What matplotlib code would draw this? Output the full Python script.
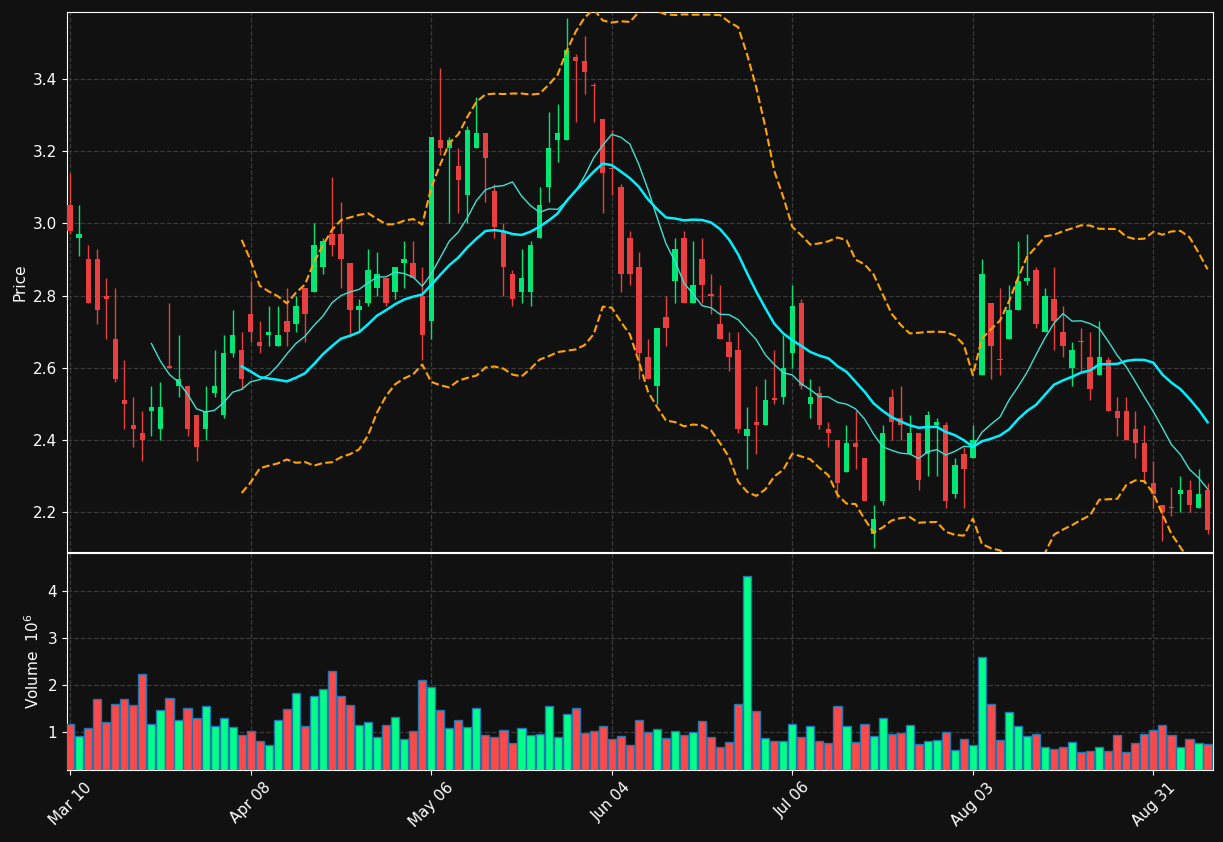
import matplotlib
matplotlib.use("Agg")
import matplotlib.pyplot as plt
import numpy as np
import pandas as pd

tick_labels = ["Mar 10", "Apr 08", "May 06", "Jun 04", "Jul 06", "Aug 03", "Aug 31"]
tick_index = [0, 20, 40, 60, 80, 100, 120]

opens = [3.05,2.96,2.90,2.90,2.80,2.68,2.51,2.44,2.42,2.48,2.43,2.605,2.55,2.55,2.47,2.43,2.53,2.47,2.64,2.65,
         2.75,2.67,2.69,2.66,2.73,2.72,2.82,2.81,2.88,2.97,2.97,2.89,2.76,2.78,2.82,2.85,2.81,2.89,2.89,2.80,
         2.73,3.23,3.21,3.16,3.08,3.21,3.25,3.09,2.98,2.86,2.81,2.81,2.96,3.10,3.23,3.23,3.46,3.45,3.385,3.29,
         3.155,3.10,2.96,2.88,2.63,2.55,2.74,2.84,2.96,2.78,2.90,2.805,2.72,2.67,2.65,2.41,2.45,2.44,2.515,2.52,
         2.64,2.78,2.50,2.53,2.43,2.40,2.31,2.39,2.35,2.14,2.23,2.52,2.46,2.36,2.42,2.36,2.44,2.44,2.25,2.36,
         2.35,2.58,2.78,2.625,2.68,2.76,2.84,2.87,2.70,2.79,2.70,2.60,2.675,2.63,2.58,2.62,2.48,2.48,2.43,2.39,
         2.28,2.22,2.215,2.25,2.26,2.21,2.26]
highs = [3.14,3.05,2.94,2.93,2.85,2.82,2.62,2.52,2.48,2.55,2.56,2.78,2.69,2.55,2.47,2.55,2.65,2.69,2.76,2.70,
         2.84,2.73,2.77,2.77,2.82,2.80,2.82,3.00,2.96,3.13,3.06,2.89,2.79,2.93,2.92,2.85,2.88,2.95,2.95,2.88,
         3.24,3.43,3.24,3.21,3.27,3.35,3.25,3.11,3.00,2.87,2.93,2.95,3.10,3.31,3.33,3.57,3.47,3.52,3.39,3.29,
         3.26,3.11,2.98,2.92,2.68,2.71,2.80,2.96,2.98,2.95,2.96,2.86,2.83,2.70,2.70,2.49,2.55,2.57,2.65,2.69,
         2.83,2.79,2.57,2.55,2.45,2.40,2.44,2.48,2.35,2.22,2.44,2.54,2.55,2.47,2.42,2.48,2.46,2.45,2.35,2.38,
         2.44,2.90,2.78,2.82,2.83,2.95,2.97,2.88,2.82,2.88,2.77,2.67,2.71,2.70,2.73,2.63,2.52,2.52,2.48,2.44,
         2.34,2.22,2.27,2.30,2.29,2.32,2.28]
lows = [2.97,2.91,2.78,2.72,2.68,2.56,2.43,2.38,2.34,2.41,2.40,2.60,2.52,2.41,2.34,2.40,2.52,2.46,2.63,2.54,
        2.67,2.64,2.66,2.66,2.66,2.70,2.67,2.81,2.86,2.91,2.82,2.69,2.70,2.77,2.80,2.77,2.79,2.82,2.85,2.62,
        2.68,3.19,3.00,3.03,3.00,3.21,3.06,2.96,2.80,2.77,2.78,2.77,2.96,3.06,3.17,3.23,3.28,3.36,3.28,3.03,
        3.08,2.81,2.83,2.57,2.57,2.50,2.66,2.78,2.78,2.78,2.78,2.75,2.68,2.59,2.42,2.32,2.36,2.44,2.50,2.50,
        2.60,2.54,2.46,2.43,2.38,2.24,2.31,2.32,2.23,2.10,2.22,2.40,2.40,2.36,2.26,2.30,2.30,2.21,2.24,2.21,
        2.35,2.58,2.57,2.58,2.68,2.76,2.83,2.71,2.70,2.65,2.63,2.55,2.59,2.51,2.58,2.48,2.41,2.40,2.35,2.28,
        2.21,2.12,2.19,2.20,2.20,2.21,2.14]
closes = [2.98,2.97,2.78,2.76,2.79,2.57,2.50,2.43,2.40,2.49,2.49,2.60,2.57,2.43,2.38,2.48,2.55,2.64,2.69,2.57,
          2.70,2.66,2.70,2.69,2.70,2.77,2.75,2.94,2.95,2.94,2.90,2.76,2.77,2.87,2.86,2.78,2.88,2.90,2.85,2.69,
          3.24,3.21,3.23,3.12,3.26,3.25,3.18,2.99,2.88,2.79,2.85,2.94,3.05,3.21,3.25,3.48,3.45,3.42,3.38,3.14,
          3.15,2.86,2.86,2.64,2.57,2.71,2.71,2.93,2.78,2.83,2.83,2.80,2.68,2.63,2.43,2.43,2.44,2.51,2.51,2.60,
          2.77,2.55,2.52,2.44,2.42,2.28,2.39,2.38,2.23,2.18,2.42,2.45,2.44,2.42,2.29,2.47,2.45,2.23,2.33,2.32,
          2.40,2.86,2.66,2.62,2.76,2.84,2.85,2.72,2.80,2.73,2.66,2.65,2.67,2.54,2.63,2.48,2.46,2.40,2.39,2.31,
          2.25,2.20,2.21,2.26,2.22,2.25,2.15]
volumes = [1.18,0.91,1.09,1.70,1.21,1.60,1.70,1.57,2.23,1.18,1.46,1.72,1.25,1.50,1.29,1.55,1.12,1.29,1.10,0.93,
           1.01,0.80,0.72,1.25,1.48,1.84,1.12,1.76,1.91,2.29,1.76,1.57,1.14,1.21,0.89,1.14,1.31,0.84,1.01,2.11,
           1.95,1.46,1.08,1.25,1.10,1.50,0.93,0.89,1.04,0.76,1.08,0.93,0.95,1.55,0.89,1.38,1.50,0.97,1.01,1.12,
           0.84,0.91,0.72,1.25,0.99,1.06,0.87,1.01,0.93,0.99,1.23,0.89,0.67,0.78,1.59,4.33,1.44,0.87,0.80,0.80,
           1.16,0.89,1.12,0.80,0.76,1.55,1.12,0.78,1.18,0.91,1.29,0.95,0.97,1.14,0.74,0.80,0.82,0.99,0.61,0.84,
           0.72,2.59,1.59,0.82,1.42,1.12,0.91,0.95,0.67,0.63,0.67,0.78,0.57,0.59,0.67,0.59,0.93,0.57,0.76,0.95,
           1.04,1.14,0.93,0.67,0.84,0.76,0.74]

o = np.array(opens); h = np.array(highs); l = np.array(lows); c = np.array(closes); v = np.array(volumes)
x = np.arange(len(c))
up = c >= o
cand_col = np.where(up, "#00E676", "#E84040")
vol_col = np.where(up, "#00FF88", "#FF4848")

cs = pd.Series(c)
ma10 = cs.rolling(10).mean()
ma20 = cs.rolling(20).mean()
sd20 = cs.rolling(20).std()
upper = ma20 + 2 * sd20
lower = ma20 - 2 * sd20

bg = "#111111"
fig = plt.figure(figsize=(12.23, 8.42), dpi=100, facecolor=bg)
ax = fig.add_axes([0.0548, 0.3444, 0.937, 0.6413], facecolor=bg)
axv = fig.add_axes([0.0548, 0.0855, 0.937, 0.2577], facecolor=bg, sharex=ax)

ax.vlines(x, l, h, colors=cand_col, linewidth=1, zorder=3)
body_b = np.minimum(o, c)
body_h = np.maximum(np.abs(c - o), 0.003)
ax.bar(x, body_h, bottom=body_b, width=0.6, color=cand_col, zorder=4)

ax.plot(x, ma10, color="#40E0D0", lw=1.0, zorder=5)
ax.plot(x, ma20, color="#00F0FF", lw=1.8, zorder=5)
ax.plot(x, upper, color="#FFA500", lw=1.5, ls="--", zorder=5)
ax.plot(x, lower, color="#FFA500", lw=1.5, ls="--", zorder=5)

axv.bar(x, v, width=0.9, color=vol_col, edgecolor="#1f77b4", linewidth=1, zorder=3)

for a in (ax, axv):
    a.grid(True, color="#3a3a3a", ls="--", lw=0.9)
    a.set_axisbelow(True)
    for s in a.spines.values():
        s.set_color("white")
    a.tick_params(colors="white", labelsize=11)

ax.set_xlim(-0.35, 126.6)
ax.set_ylim(2.089, 3.586)
ax.set_yticks([2.2, 2.4, 2.6, 2.8, 3.0, 3.2, 3.4])
ax.set_ylabel("Price", color="white", fontsize=11)
plt.setp(ax.get_xticklabels(), visible=False)

axv.set_ylim(0.19, 4.81)
axv.set_yticks([1, 2, 3, 4])
axv.set_ylabel("Volume  $10^6$", color="white", fontsize=11)
axv.set_xticks(tick_index)
axv.set_xticklabels(tick_labels, rotation=45, ha="center")

fig.savefig("out.png", dpi=100, facecolor=bg)
